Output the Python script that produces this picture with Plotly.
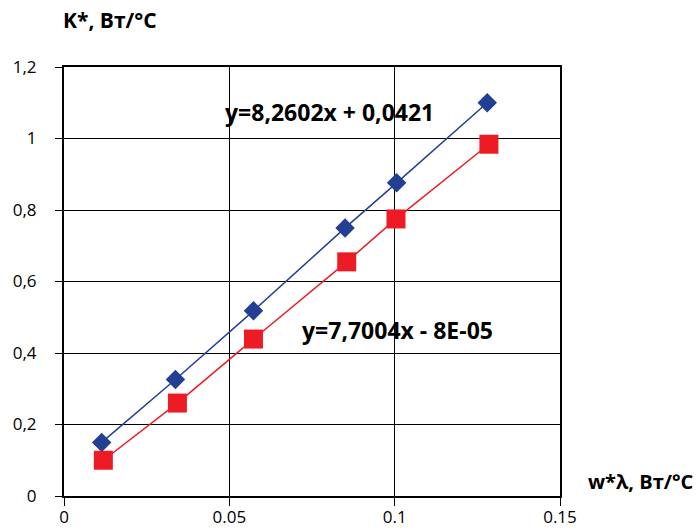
import plotly.graph_objects as go

# data
x_blue = [0.0114, 0.0337, 0.0573, 0.0850, 0.1006, 0.1280]
y_blue = [0.150, 0.326, 0.518, 0.750, 0.876, 1.100]
x_red = [0.0119, 0.0343, 0.0573, 0.0855, 0.1004, 0.1285]
y_red = [0.100, 0.260, 0.439, 0.655, 0.775, 0.984]

x_tickvals = [0, 0.05, 0.1, 0.15]
x_ticktext = ["0", "0.05", "0.1", "0.15"]
y_tickvals = [0, 0.2, 0.4, 0.6, 0.8, 1.0, 1.2]
y_ticktext = ["0", "0,2", "0,4", "0,6", "0,8", "1", "1,2"]

eq_blue = "y=8,2602x + 0,0421"
eq_red = "y=7,7004x - 8E-05"
y_title = "K*, Вт/°C"
x_title = "w*λ, Вт/°C"

FONT = "Open Sans"
BLUE = "#233F94"
RED = "#ED1C24"

fig = go.Figure()
fig.add_trace(go.Scatter(x=x_blue, y=y_blue, mode="lines+markers",
                         line=dict(color=BLUE, width=1.5),
                         marker=dict(symbol="diamond", size=15, color=BLUE),
                         showlegend=False))
fig.add_trace(go.Scatter(x=x_red, y=y_red, mode="lines+markers",
                         line=dict(color=RED, width=1.5),
                         marker=dict(symbol="square", size=19, color=RED),
                         showlegend=False))

fig.update_layout(
    width=699, height=531,
    margin=dict(l=64, r=139, t=67, b=35, autoexpand=False),
    paper_bgcolor="white", plot_bgcolor="white",
    font=dict(family=FONT, color="black", size=17),
    xaxis=dict(range=[0, 0.15], tickvals=x_tickvals, ticktext=x_ticktext,
               showgrid=True, gridcolor="black", gridwidth=1,
               showline=True, linecolor="black", linewidth=2, mirror=True,
               ticks="outside", ticklen=8, tickcolor="black",
               zeroline=False, tickfont=dict(size=17), automargin=False,
               ticklabelstandoff=-3),
    yaxis=dict(range=[0, 1.2], tickvals=y_tickvals, ticktext=y_ticktext,
               showgrid=True, gridcolor="black", gridwidth=1,
               showline=True, linecolor="black", linewidth=2, mirror=True,
               ticks="outside", ticklen=7, tickcolor="black",
               zeroline=False, tickfont=dict(size=17), automargin=False,
               ticklabelstandoff=15),
)

fig.add_annotation(text="<b>" + y_title + "</b>", xref="paper", yref="paper",
                   x=0.0, y=1.0, xanchor="left", yanchor="middle", xshift=-3, yshift=47,
                   showarrow=False, font=dict(size=21))
fig.add_annotation(text="<b>" + x_title + "</b>", xref="paper", yref="paper",
                   x=1.0, y=0.0, xanchor="left", yanchor="middle", xshift=26, yshift=15,
                   showarrow=False, font=dict(size=20))
fig.add_annotation(text="<b>" + eq_blue + "</b>", x=0.048, y=1.0735,
                   xanchor="left", yanchor="middle",
                   showarrow=False, font=dict(size=23))
fig.add_annotation(text="<b>" + eq_red + "</b>", x=0.0715, y=0.4638,
                   xanchor="left", yanchor="middle",
                   showarrow=False, font=dict(size=23))

fig.write_html("out.html",
               config={"displayModeBar": False},
               post_script="document.body.style.margin='0';"
                           "document.body.style.overflow='hidden';")
